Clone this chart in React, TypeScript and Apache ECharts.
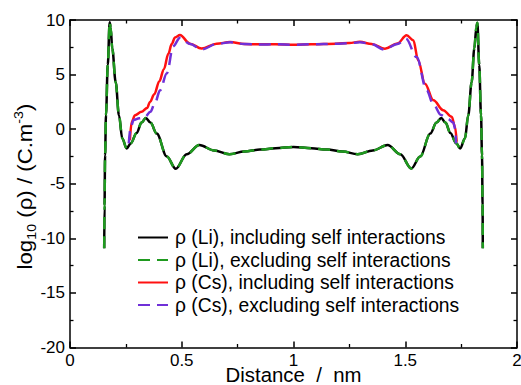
import React, { useEffect, useRef } from "react";
import * as echarts from "echarts";

// Li density profile (log10)
const liX = [0.153, 0.1545, 0.157, 0.161, 0.169, 0.1775, 0.182, 0.189, 0.2045, 0.219, 0.234, 0.2535, 0.272, 0.298, 0.32, 0.339, 0.36, 0.388, 0.433, 0.473, 0.522, 0.579, 0.645, 0.713, 0.78, 0.85, 0.92, 1.0, 1.08, 1.15, 1.22, 1.287, 1.355, 1.421, 1.478, 1.527, 1.567, 1.612, 1.64, 1.661, 1.68, 1.702, 1.728, 1.746, 1.767, 1.782, 1.797, 1.809, 1.818, 1.8226, 1.831, 1.839, 1.8435, 1.846, 1.847];
const liIncl = [-10.9, -7.0, -2.4, 1.3, 5.9, 9.8, 9.3, 7.4, 4.3, 1.28, -0.85, -1.77, -1.3, -0.35, 0.6, 1.03, 0.6, -0.4, -2.5, -3.63, -2.3, -1.46, -1.95, -2.29, -2.05, -1.87, -1.75, -1.63, -1.75, -1.87, -2.05, -2.29, -1.95, -1.46, -2.3, -3.6, -2.5, -0.4, 0.6, 1.03, 0.6, -0.35, -1.3, -1.77, -0.85, 1.28, 4.3, 7.4, 9.3, 9.75, 5.9, 1.3, -2.4, -7.0, -10.9];
const liExcl = [-10.9, -7.0, -2.4, 1.3, 5.9, 9.8, 9.3, 7.4, 4.3, 1.28, -0.85, -1.77, -1.3, -0.35, 0.6, 1.03, 0.6, -0.4, -2.5, -3.63, -2.3, -1.46, -1.95, -2.29, -2.05, -1.87, -1.75, -1.63, -1.75, -1.87, -2.05, -2.29, -1.95, -1.46, -2.3, -3.6, -2.5, -0.4, 0.6, 1.03, 0.6, -0.35, -1.3, -1.77, -0.85, 1.28, 4.3, 7.4, 9.3, 9.75, 5.9, 1.3, -2.4, -7.0, -10.9];

// Cs density profile including self interactions
const csInclX = [0.268, 0.276, 0.291, 0.32, 0.345, 0.358, 0.377, 0.4, 0.42, 0.44, 0.455, 0.47, 0.492, 0.537, 0.589, 0.656, 0.716, 0.78, 0.85, 0.92, 1.0, 1.08, 1.19, 1.25, 1.297, 1.35, 1.409, 1.465, 1.506, 1.536, 1.558, 1.588, 1.626, 1.67, 1.708, 1.723, 1.73];
const csIncl = [-1.0, 0.67, 1.28, 1.6, 1.95, 2.5, 3.2, 4.4, 5.5, 6.9, 7.8, 8.4, 8.62, 7.83, 7.38, 7.83, 7.98, 7.8, 7.77, 7.78, 7.74, 7.78, 7.83, 7.9, 8.0, 7.8, 7.37, 7.85, 8.6, 8.14, 6.3, 4.17, 2.65, 1.74, 1.13, 0.2, -1.16];

// Cs density profile excluding self interactions
const csExclX = [0.263, 0.272, 0.285, 0.31, 0.335, 0.36, 0.38, 0.403, 0.433, 0.462, 0.492, 0.537, 0.589, 0.656, 0.716, 0.78, 0.85, 0.92, 1.0, 1.08, 1.19, 1.25, 1.297, 1.35, 1.405, 1.465, 1.503, 1.551, 1.596, 1.625, 1.66, 1.69, 1.715, 1.724, 1.727];
const csExcl = [-1.3, 0.2, 0.85, 1.0, 1.1, 1.6, 2.4, 3.56, 5.1, 7.6, 8.38, 7.8, 7.3, 7.8, 7.96, 7.8, 7.76, 7.77, 7.73, 7.77, 7.82, 7.88, 7.97, 7.78, 7.3, 7.8, 8.3, 6.6, 3.56, 2.3, 1.3, 0.95, 0.6, 0.0, -1.3];

const seriesNames = [
  "ρ (Li), including self interactions",
  "ρ (Li), excluding self interactions",
  "ρ (Cs), including self interactions",
  "ρ (Cs), excluding self interactions",
];

const xTitle = "Distance  /  nm";
const yTitle = "{b|log}{s|10}{b| (ρ) / (C.m}{p|-3}{b|)}";

const xTicks = { min: 0, max: 2, interval: 0.5 };
const yTicks = { min: -20, max: 10, interval: 5 };

const pairs = (xs: number[], ys: number[]) => xs.map((x, i) => [x, ys[i]]);

export default function App() {
  const ref = useRef<HTMLDivElement>(null);
  useEffect(() => {
    if (!ref.current) return;
    const chart = echarts.init(ref.current, undefined, { renderer: "svg" });
    const font = "'Liberation Sans', Arial, sans-serif";
    const axisCommon = {
      type: "value" as const,
      axisLine: { show: true, onZero: false, lineStyle: { color: "#000", width: 1.5 } },
      axisTick: { show: true, inside: true, length: 6, lineStyle: { color: "#000", width: 1.5 } },
      minorTick: { show: true, splitNumber: 2, length: 3.5, lineStyle: { color: "#000", width: 1.3 } },
      splitLine: { show: false },
      minorSplitLine: { show: false },
    };
    const lineSeries = (name: string, data: number[][], color: string, dashed: boolean) => ({
      name,
      type: "line" as const,
      data,
      showSymbol: false,
      symbol: "none",
      smooth: 0.35,
      smoothMonotone: "x" as const,
      lineStyle: { color, width: 2.5, type: dashed ? [12, 7] : "solid" },
      itemStyle: { color },
    });
    chart.setOption({
      animation: false,
      backgroundColor: "#fff",
      textStyle: { fontFamily: font },
      grid: { left: 70, right: 4, top: 20, bottom: 37.5, outerBoundsMode: "none", containLabel: false },
      legend: {
        orient: "vertical",
        left: 132,
        top: 223,
        itemWidth: 30,
        itemHeight: 14,
        itemGap: 3.5,
        itemStyle: { opacity: 0, borderWidth: 0 },
        textStyle: { fontSize: 19.3, color: "#000", fontFamily: font, padding: [0, 0, 0, 2] },
        data: seriesNames,
      },
      graphic: [
        {
          type: "text",
          x: 293.5,
          y: 367,
          scaleX: 1.045,
          style: { text: xTitle, fontSize: 19.5, lineHeight: 17, fill: "#000", fontFamily: font, align: "center", verticalAlign: "top" },
        },
        {
          type: "text",
          x: 25,
          y: 186.5,
          rotation: Math.PI / 2,
          scaleX: 1.14,
          style: {
            text: yTitle,
            fill: "#000",
            fontFamily: font,
            align: "center",
            verticalAlign: "middle",
            rich: {
              b: { fontSize: 19.5, fill: "#000", fontFamily: font, lineHeight: 26, verticalAlign: "middle" },
              s: { fontSize: 12.5, fill: "#000", fontFamily: font, verticalAlign: "bottom", lineHeight: 26 },
              p: { fontSize: 12.5, fill: "#000", fontFamily: font, verticalAlign: "top", lineHeight: 26 },
            },
          },
        },
      ],
      xAxis: [
        {
          ...axisCommon,
          ...xTicks,
          position: "bottom",
          axisLabel: { fontSize: 17, lineHeight: 14, color: "#000", margin: 5.5, fontFamily: font },
        },
        {
          ...axisCommon,
          ...xTicks,
          position: "top",
          axisLabel: { show: false },
        },
      ],
      yAxis: [
        {
          ...axisCommon,
          ...yTicks,
          position: "left",
          axisLabel: { fontSize: 17, color: "#000", margin: 5, fontFamily: font },
        },
        {
          ...axisCommon,
          ...yTicks,
          position: "right",
          axisLabel: { show: false },
        },
      ],
      series: [
        lineSeries(seriesNames[0], pairs(liX, liIncl), "#000000", false),
        lineSeries(seriesNames[1], pairs(liX, liExcl), "#1f9a1f", true),
        lineSeries(seriesNames[2], pairs(csInclX, csIncl), "#ff1010", false),
        lineSeries(seriesNames[3], pairs(csExclX, csExcl), "#7030d8", true),
      ],
    });
    return () => chart.dispose();
  }, []);
  return <div ref={ref} style={{ width: 521, height: 385, position: "fixed", left: 0, top: 0 }} />;
}
